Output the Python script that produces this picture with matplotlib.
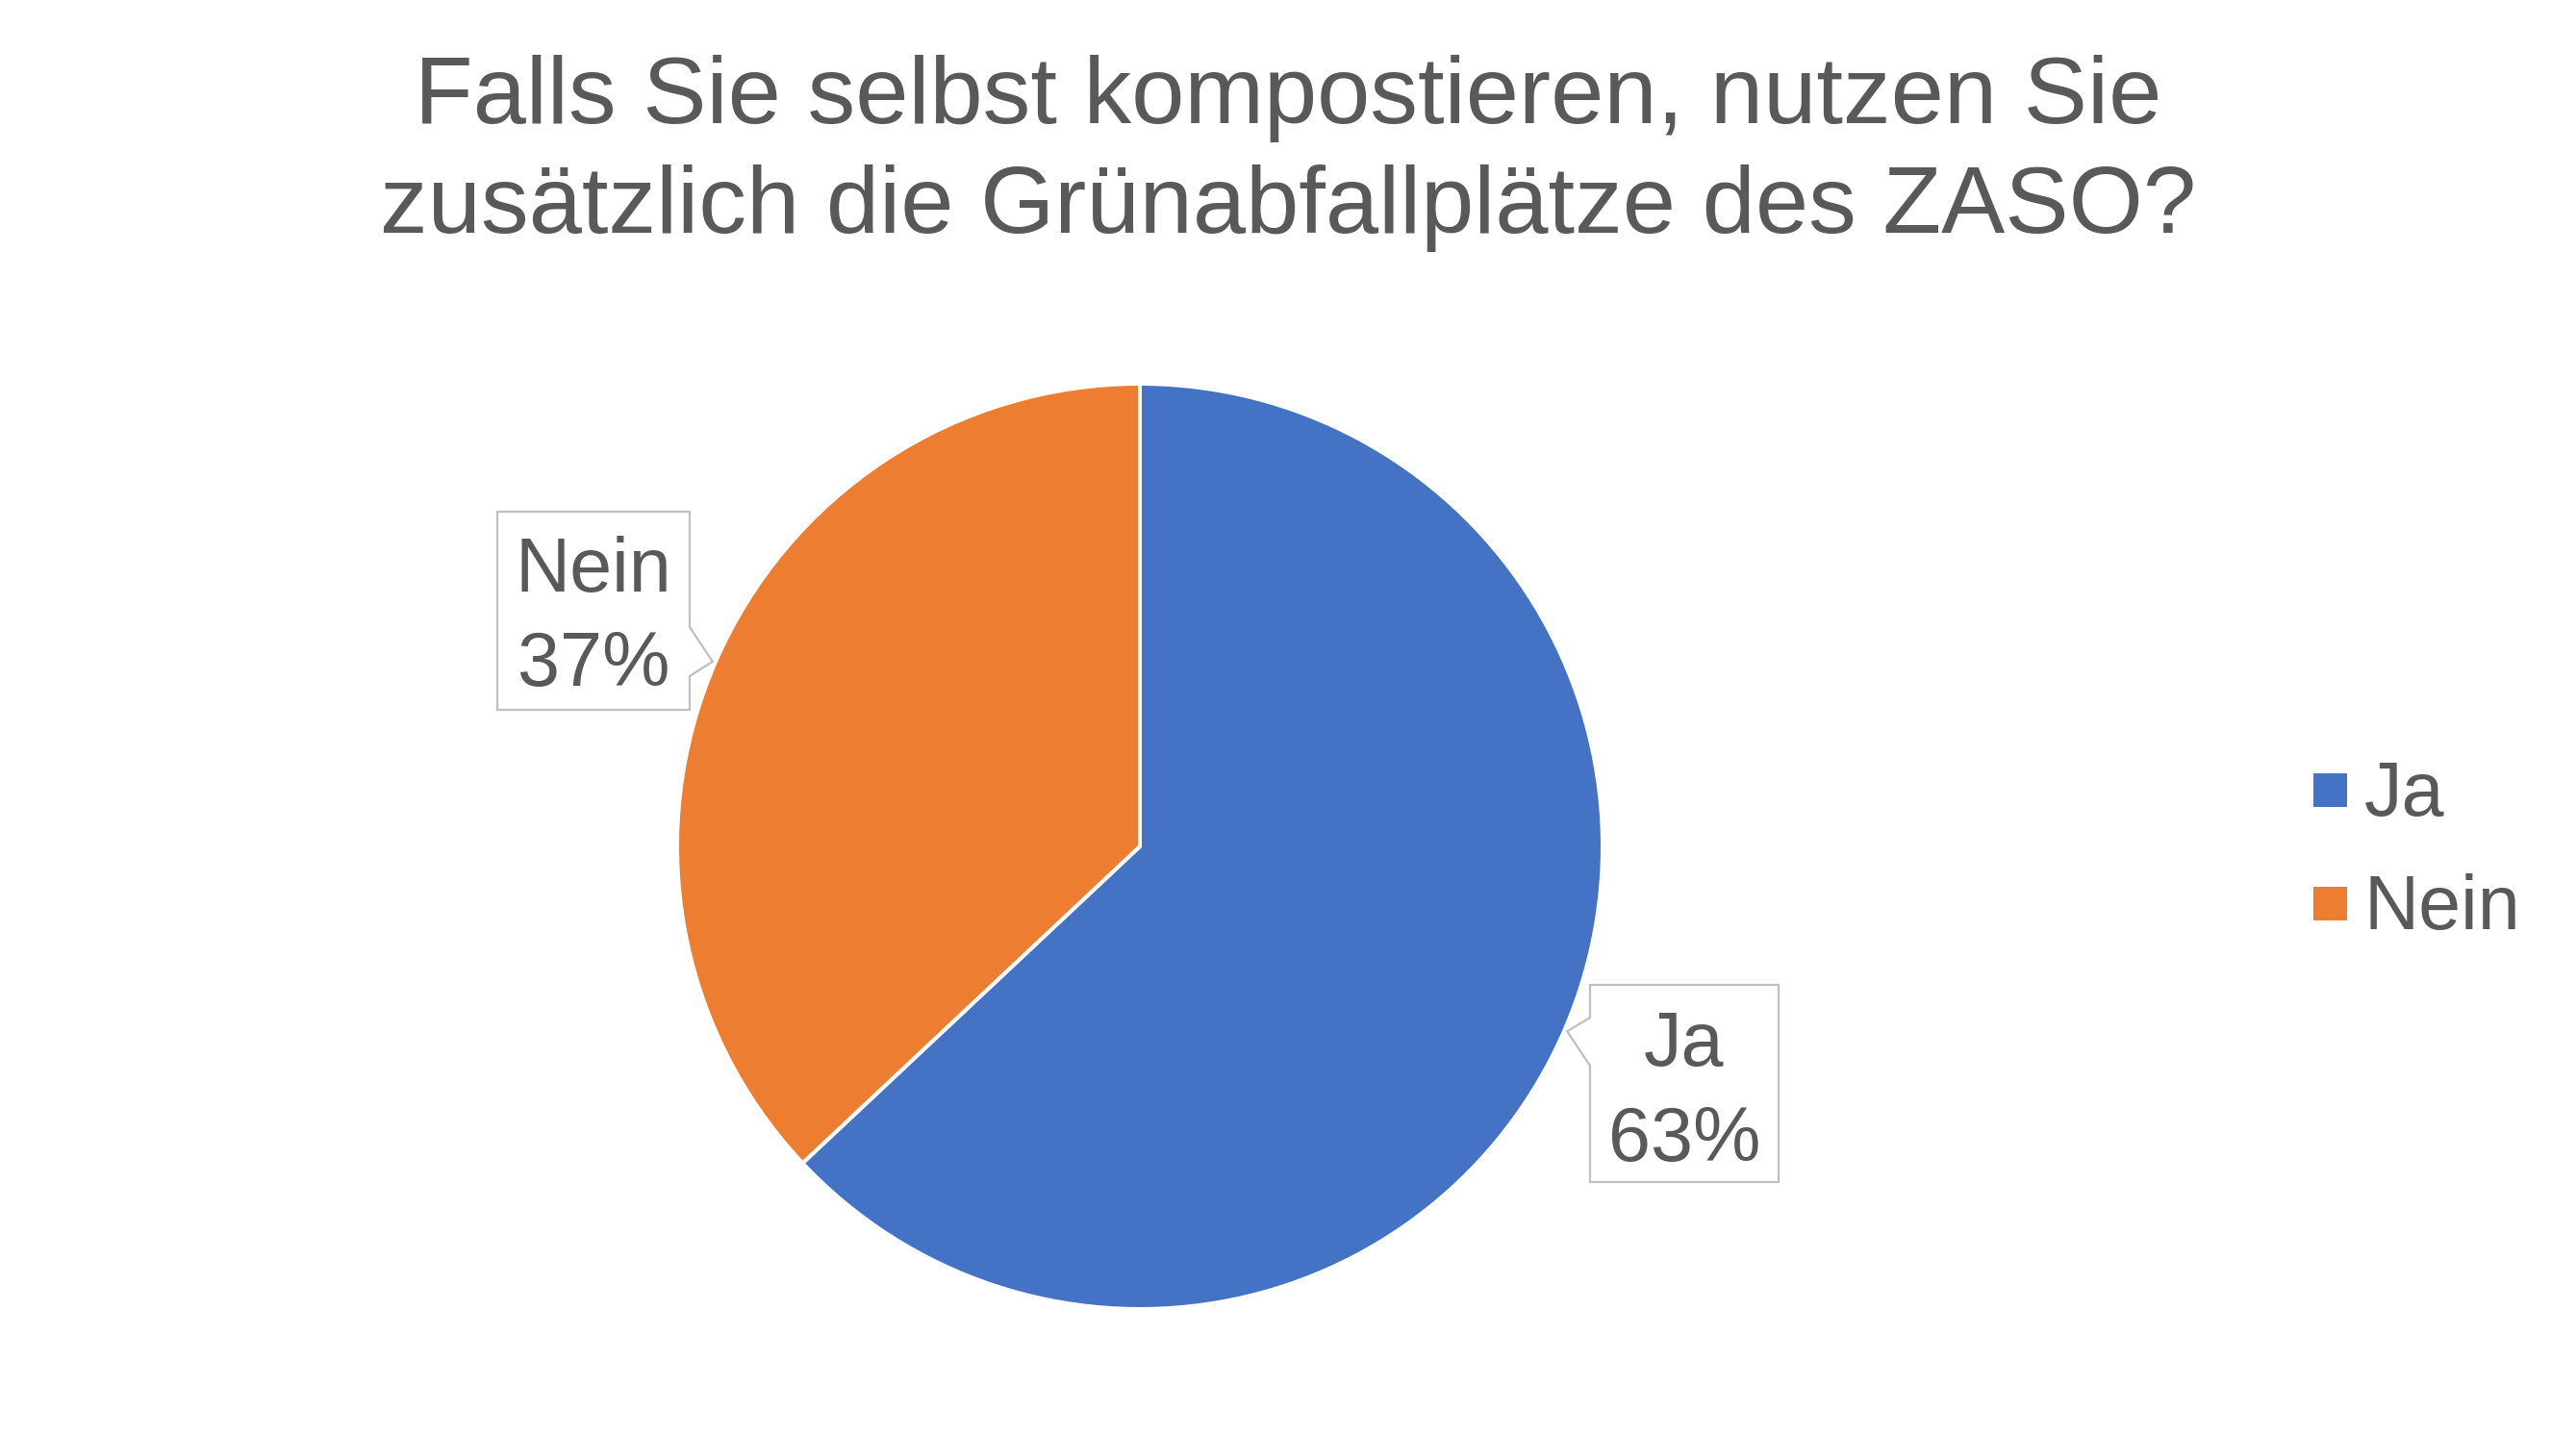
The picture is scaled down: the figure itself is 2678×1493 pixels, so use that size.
import numpy as np
import matplotlib
matplotlib.use("Agg")
import matplotlib.pyplot as plt
from matplotlib.patches import Polygon, Rectangle

# ---- data ----
categories = ["Ja", "Nein"]
values = [63, 37]
colors = ["#4472C4", "#ED7D31"]
title_lines = ["Falls Sie selbst kompostieren, nutzen Sie",
               "zusätzlich die Grünabfallplätze des ZASO?"]

W, H = 2678, 1493
DPI = 100
plt.rcParams['font.family'] = ['Liberation Sans', 'DejaVu Sans']
TXT = "#595959"

fig = plt.figure(figsize=(W / DPI, H / DPI), dpi=DPI, facecolor="white")

# pie geometry (pixels)
cx, cy, R = 1185, 880, 481
pie_ax = fig.add_axes([(cx - R) / W, (H - cy - R) / H, 2 * R / W, 2 * R / H])
wedges, _ = pie_ax.pie(values, colors=colors, startangle=90, counterclock=False,
                       radius=1.0, wedgeprops=dict(edgecolor="white", linewidth=2.9))
pie_ax.set_xlim(-1, 1)
pie_ax.set_ylim(-1, 1)
pie_ax.axis("off")

# overlay axes in pixel coordinates
ov = fig.add_axes([0, 0, 1, 1], facecolor="none")
ov.set_xlim(0, W)
ov.set_ylim(H, 0)
ov.axis("off")

# title
for i, line in enumerate(title_lines):
    ov.text(1339, 128 + i * 114, line, ha="center", va="baseline",
            fontsize=71.5, color=TXT)

# callout boxes (layout): box left, top, right, bottom, side of pointer
boxes = {
    "Nein": dict(box=(517, 532, 717, 738), side="right", base=(652, 703), tx=617, bl=(615, 713)),
    "Ja": dict(box=(1653, 1024, 1849, 1229), side="left", base=(1058, 1108), tx=1751, bl=(1108, 1207)),
}
total = sum(values)
for w, cat, v in zip(wedges, categories, values):
    mid = np.deg2rad((w.theta1 + w.theta2) / 2)
    tipx = cx + (R + 3) * np.cos(mid)
    tipy = cy - (R + 3) * np.sin(mid)
    b = boxes[cat]
    l, t, r, btm = b["box"]
    y0, y1 = b["base"]
    if b["side"] == "right":
        pts = [(l, t), (r, t), (r, y0), (tipx, tipy), (r, y1), (r, btm), (l, btm)]
    else:
        pts = [(l, t), (r, t), (r, btm), (l, btm), (l, y1), (tipx, tipy), (l, y0)]
    ov.add_patch(Polygon(pts, closed=True, facecolor="white", edgecolor="#BFBFBF",
                         linewidth=1.6, joinstyle="miter"))
    pct = round(v / total * 100)
    ov.text(b["tx"], b["bl"][0], cat, ha="center", va="baseline", fontsize=57, color=TXT)
    ov.text(b["tx"], b["bl"][1], f"{pct}%", ha="center", va="baseline", fontsize=57, color=TXT)

# legend
leg_x, leg_sq = 2405, 35
leg_base = [848, 966]
for cat, col, bl in zip(categories, colors, leg_base):
    ov.add_patch(Rectangle((leg_x, bl - 44), leg_sq, leg_sq, facecolor=col, edgecolor="none"))
    ov.text(2458, bl, cat, ha="left", va="baseline", fontsize=57, color=TXT)

fig.savefig("out.png", dpi=DPI, facecolor="white")
